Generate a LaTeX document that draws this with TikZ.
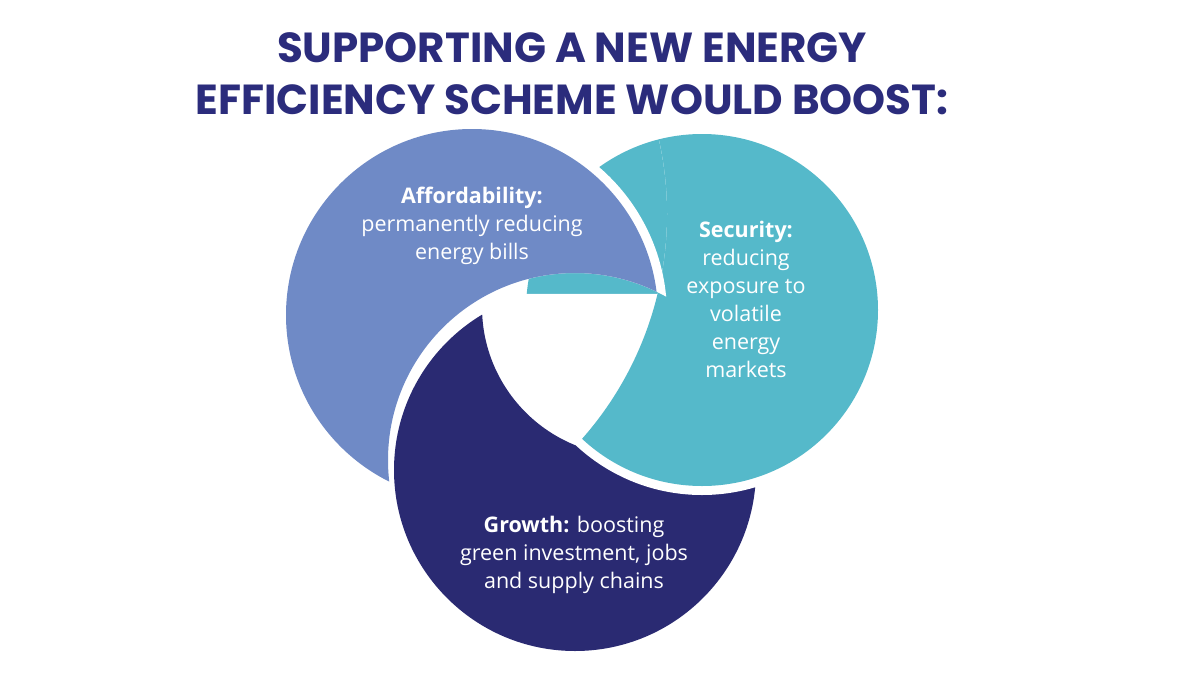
\documentclass[tikz,border=0pt]{standalone}
\usepackage{fontspec}
\setmainfont{Open Sans}
\newfontfamily\titlefont{Poppins}
\definecolor{cblue}{HTML}{6F8AC6}
\definecolor{cteal}{HTML}{55B9CA}
\definecolor{cnavy}{HTML}{2A2A72}
\definecolor{ctitle}{HTML}{2B2C7C}
\begin{document}
\begin{tikzpicture}[x=1pt,y=-1pt,
  lbl/.style={text=white,align=center,font=\fontsize{21.5}{28}\selectfont},
  ttl/.style={text=ctitle,align=center,font=\titlefont\bfseries\fontsize{42}{52}\selectfont}]
\fill[white] (0,0) rectangle (1200,675);
\useasboundingbox (0,0) rectangle (1200,675);
% navy
\begin{scope}[even odd rule]
\clip (0,0) rectangle (1200,675) (631,307) circle (149);
\fill[cnavy] (575,470) circle (181);
\end{scope}
% teal, upper part unbitten
\begin{scope}
\clip (0,0) rectangle (1200,293);
\fill[cteal] (702,310) circle (176);
\end{scope}
% teal, lower part bitten
\begin{scope}[even odd rule]
\clip (0,293) rectangle (1200,675) (327,214) circle (340);
\fill[white] (702,310) circle (185);
\fill[cteal] (702,310) circle (176);
\end{scope}
% blue
\begin{scope}[even odd rule]
\clip (0,0) rectangle (1200,675) (575,460) circle (187);
\fill[white] (472,315) circle (195);
\fill[cblue] (472,315) circle (186);
\end{scope}
\node[ttl] (title) at (572,74) {SUPPORTING A NEW ENERGY\\EFFICIENCY SCHEME WOULD BOOST:};
\node[lbl] (aff) at (472,226) {\textbf{Affordability:}\\permanently reducing\\energy bills};
\node[lbl] (sec) at (746,299) {\textbf{Security:}\\reducing\\exposure to\\volatile\\energy\\markets};
\node[lbl] (gro) at (574,555) {\textbf{Growth:} boosting\\green investment, jobs\\and supply chains};
\end{tikzpicture}
\end{document}
